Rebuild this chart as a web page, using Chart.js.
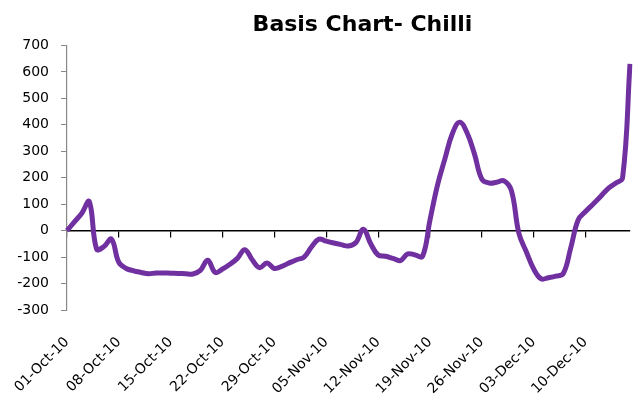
<!DOCTYPE html>
<html lang="en">
<head>
  <meta charset="UTF-8" />
  <title>Basis Chart- Chilli</title>
  <style>
    body { margin: 0; background: #fff; }
    #wrap { position: relative; width: 633px; height: 400px; }
  </style>
  <script src="https://cdn.jsdelivr.net/npm/chart.js"></script>
</head>
<body>
  <div id="wrap"><canvas id="basisChart"></canvas></div>
  <script>
    const dates = [
      '01-Oct-10','02-Oct-10','03-Oct-10','04-Oct-10','05-Oct-10','06-Oct-10','07-Oct-10','08-Oct-10','09-Oct-10','10-Oct-10',
      '11-Oct-10','12-Oct-10','13-Oct-10','14-Oct-10','15-Oct-10','16-Oct-10','17-Oct-10','18-Oct-10','19-Oct-10','20-Oct-10',
      '21-Oct-10','22-Oct-10','23-Oct-10','24-Oct-10','25-Oct-10','26-Oct-10','27-Oct-10','28-Oct-10','29-Oct-10','30-Oct-10',
      '31-Oct-10','01-Nov-10','02-Nov-10','03-Nov-10','04-Nov-10','05-Nov-10','06-Nov-10','07-Nov-10','08-Nov-10','09-Nov-10',
      '10-Nov-10','11-Nov-10','12-Nov-10','13-Nov-10','14-Nov-10','15-Nov-10','16-Nov-10','17-Nov-10','18-Nov-10','19-Nov-10',
      '20-Nov-10','21-Nov-10','22-Nov-10','23-Nov-10','24-Nov-10','25-Nov-10','26-Nov-10','27-Nov-10','28-Nov-10','29-Nov-10',
      '30-Nov-10','01-Dec-10','02-Dec-10','03-Dec-10','04-Dec-10','05-Dec-10','06-Dec-10','07-Dec-10','08-Dec-10','09-Dec-10',
      '10-Dec-10','11-Dec-10','12-Dec-10','13-Dec-10','14-Dec-10','15-Dec-10','16-Dec-10'
    ];

    const basis = [
      0, 33, 66, 110, -70, -60, -32, -120, -143, -152,
      -158, -163, -160, -160, -161, -162, -163, -164, -150, -112,
      -158, -145, -127, -105, -72, -110, -140, -122, -143, -135,
      -122, -110, -100, -62, -32, -40, -47, -53, -58, -45,
      5, -50, -92, -97, -105, -113, -88, -92, -97, 40,
      170, 270, 365, 410, 370, 290, 195, 180, 183, 188,
      150, -10, -80, -145, -182, -178, -172, -162, -65, 40,
      72, 100, 128, 158, 178, 200, 630
    ];

    const labelEvery = 7;   // one date label per week
    const yMin = -300, yMax = 700, yStep = 100;

    const tickFont = { family: '"DejaVu Sans", sans-serif', size: 14 };

    // the title sits a little right of the plot centre in the original
    const titleNudge = {
      id: 'titleNudge',
      afterLayout(chart) {
        if (chart.titleBlock) chart.titleBlock.left += 28;
      }
    };

    new Chart(document.getElementById('basisChart'), {
      type: 'line',
      data: {
        labels: dates,
        datasets: [{
          label: 'Basis',
          data: basis,
          borderColor: '#7030a0',
          borderWidth: 5,
          pointRadius: 0,
          tension: 0.4,
          fill: false
        }]
      },
      options: {
        responsive: true,
        maintainAspectRatio: false,
        animation: false,
        layout: { padding: { left: 0, right: 3, top: 0, bottom: 0 } },
        plugins: {
          legend: { display: false },
          tooltip: { enabled: false },
          title: {
            display: true,
            text: 'Basis Chart- Chilli',
            color: '#000',
            fullSize: false,
            font: { family: '"DejaVu Sans", sans-serif', size: 22, weight: 'bold' },
            padding: { top: 12, bottom: 7 }
          }
        },
        scales: {
          x: {
            type: 'category',
            position: 'bottom',
            offset: false,
            grid: { display: false, drawTicks: false },
            border: { display: false },
            ticks: {
              autoSkip: false,
              maxRotation: 45,
              minRotation: 45,
              padding: 24,
              color: '#000',
              font: tickFont,
              callback: (v, i) => i % labelEvery === 0 ? dates[i] : ''
            },
            afterFit: s => { s.height = 90; s.paddingLeft = 0; s.paddingRight = 0; }
          },
          // axis line drawn across y = 0 with week tick marks
          xZero: {
            type: 'category',
            axis: 'x',
            position: { y: 0 },
            offset: false,
            ticks: { display: false, autoSkip: false },
            grid: {
              drawOnChartArea: false,
              tickLength: 6,
              lineWidth: 1.2,
              tickColor: c => c.index % labelEvery === 0 ? '#000' : 'rgba(0,0,0,0)'
            },
            border: { display: true, color: '#000', width: 1.5 }
          },
          y: {
            min: yMin,
            max: yMax,
            position: 'left',
            grid: { drawOnChartArea: false, tickLength: 6, color: '#888' },
            border: { display: true, color: '#888', width: 1.2 },
            ticks: { stepSize: yStep, padding: 12, color: '#000', font: tickFont },
            afterFit: s => { s.width = 67; }
          }
        }
      },
      plugins: [titleNudge]
    });
  </script>
</body>
</html>
